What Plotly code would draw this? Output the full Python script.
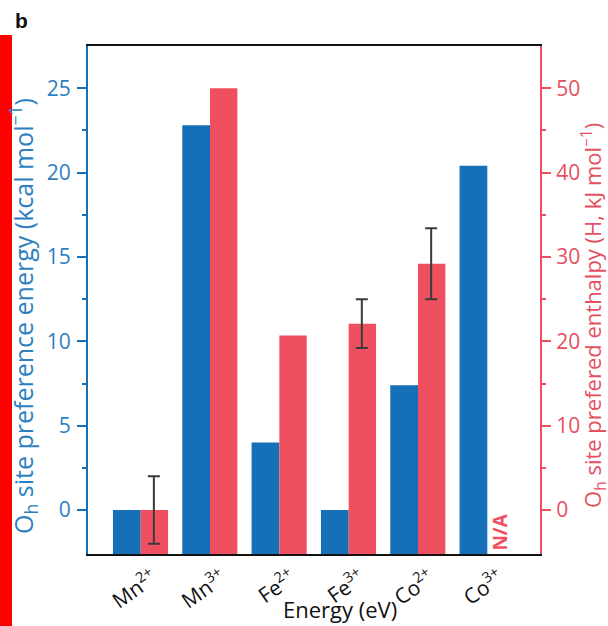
import plotly.graph_objects as go

# ---- data ----
categories = ["Mn<sup>2+</sup>", "Mn<sup>3+</sup>", "Fe<sup>2+</sup>",
              "Fe<sup>3+</sup>", "Co<sup>2+</sup>", "Co<sup>3+</sup>"]
ospe_kcal = [0.0, 22.8, 4.0, 0.0, 7.4, 20.4]          # left axis (blue)
enthalpy_kj = [0.0, 50.0, 20.7, 22.1, 29.2, None]      # right axis (red)
enthalpy_err = [4.0, None, None, 2.9, 4.2, None]

BLUE = "#1570b7"
BLUE_TXT = "#2d7fc0"
RED = "#ef5060"
RED_TXT = "#e5505f"

LEFT_RANGE = [-2.6, 27.5]
RIGHT_RANGE = [-5.2, 55.0]

W, H = 608, 626
ML, MR, MT, MB = 88, 68, 46, 68
PW = W - ML - MR
PH = H - MT - MB

def px_x(p):
    return (p - ML) / PW

def px_y(p):
    return (H - MB - p) / PH

xs = list(range(len(categories)))

fig = go.Figure()

fig.add_trace(go.Bar(
    x=xs,
    y=[v - LEFT_RANGE[0] for v in ospe_kcal],
    base=LEFT_RANGE[0],
    width=0.40, offset=-0.40,
    marker=dict(color=BLUE, line=dict(width=0)),
    yaxis="y", showlegend=False,
))

red_x = [x for x, v in zip(xs, enthalpy_kj) if v is not None]
red_v = [v for v in enthalpy_kj if v is not None]
fig.add_trace(go.Bar(
    x=red_x,
    y=[v - RIGHT_RANGE[0] for v in red_v],
    base=RIGHT_RANGE[0],
    width=0.395, offset=0.0,
    marker=dict(color=RED, line=dict(width=0)),
    yaxis="y2", showlegend=False,
))

err_x = [x + 0.19 for x, e in zip(xs, enthalpy_err) if e is not None]
err_y = [v for v, e in zip(enthalpy_kj, enthalpy_err) if e is not None]
err_e = [e for e in enthalpy_err if e is not None]
fig.add_trace(go.Scatter(
    x=err_x, y=err_y, mode="markers",
    marker=dict(size=0.1, color="rgba(0,0,0,0)"),
    error_y=dict(type="data", array=err_e, visible=True,
                 color="#3a3a3a", thickness=2, width=6),
    yaxis="y2", showlegend=False, hoverinfo="skip",
))

fig.update_layout(
    width=W, height=H,
    margin=dict(l=ML, r=MR, t=MT, b=MB),
    plot_bgcolor="white", paper_bgcolor="white",
    font=dict(family="Open Sans", size=20),
    bargap=0.2,
    xaxis=dict(
        range=[-0.76, 5.76],
        tickvals=xs, ticktext=categories,
        tickangle=-35,
        tickfont=dict(size=21, color="#111111"),
        ticklabelshift=12, ticklabelstandoff=2,
        showline=True, linecolor="#111111", linewidth=2, mirror=True,
        ticks="", showgrid=False, zeroline=False,
        title=None,
    ),
    yaxis=dict(
        range=LEFT_RANGE,
        tickvals=[0, 5, 10, 15, 20, 25],
        tickfont=dict(size=21, color=BLUE_TXT),
        showline=True, linecolor=BLUE, linewidth=2,
        ticks="outside", ticklen=9, tickwidth=2, tickcolor=BLUE,
        ticklabelstandoff=2,
        minor=dict(tickvals=[2.5, 7.5, 12.5, 17.5, 22.5], ticks="outside",
                   ticklen=4, tickwidth=2, tickcolor=BLUE),
        showgrid=False, zeroline=False,
    ),
    yaxis2=dict(
        range=RIGHT_RANGE,
        overlaying="y", side="right",
        tickvals=[0, 10, 20, 30, 40, 50],
        tickfont=dict(size=21, color=RED_TXT),
        showline=True, linecolor=RED, linewidth=2,
        ticks="outside", ticklen=9, tickwidth=2, tickcolor=RED,
        ticklabelstandoff=1,
        minor=dict(tickvals=[5, 15, 25, 35, 45], ticks="outside",
                   ticklen=4, tickwidth=2, tickcolor=RED),
        showgrid=False, zeroline=False,
    ),
    shapes=[
        dict(type="rect", xref="paper", yref="paper",
             x0=px_x(0), x1=px_x(12), y0=px_y(640), y1=px_y(35),
             fillcolor="#ff0000", line=dict(width=0), layer="above"),
    ],
    annotations=[
        dict(text="<b>b</b>", xref="paper", yref="paper",
             x=px_x(13), y=px_y(7), xanchor="left", yanchor="top",
             showarrow=False, font=dict(size=21, color="#111111",
                                        family="Liberation Sans")),
        dict(text="O<sub>h</sub> site preference energy (kcal mol<sup>\u22121</sup>)",
             xref="paper", yref="paper", x=px_x(23), y=px_y(318),
             xanchor="center", yanchor="middle",
             textangle=-90, showarrow=False,
             font=dict(size=25, color=BLUE_TXT)),
        dict(text="O<sub>h</sub> site prefered enthalpy (H, kJ mol<sup>\u22121</sup>)",
             xref="paper", yref="paper", x=px_x(594), y=px_y(318),
             xanchor="center", yanchor="middle",
             textangle=-90, showarrow=False,
             font=dict(size=22, color=RED_TXT)),
        dict(text="Energy (eV)", xref="paper", yref="paper",
             x=px_x(340), y=px_y(613), xanchor="center", yanchor="middle",
             showarrow=False,
             font=dict(size=22, color="#111111")),
        dict(text="<b>N/A</b>", xref="x", yref="paper",
             x=5.17, y=px_y(557), xanchor="center", yanchor="bottom",
             textangle=-90,
             showarrow=False, font=dict(size=19, color=RED)),
    ],
)

fig.write_html("out.html",
               config={"displayModeBar": False},
               post_script="document.body.style.margin='0';"
                           "document.documentElement.style.margin='0';")
